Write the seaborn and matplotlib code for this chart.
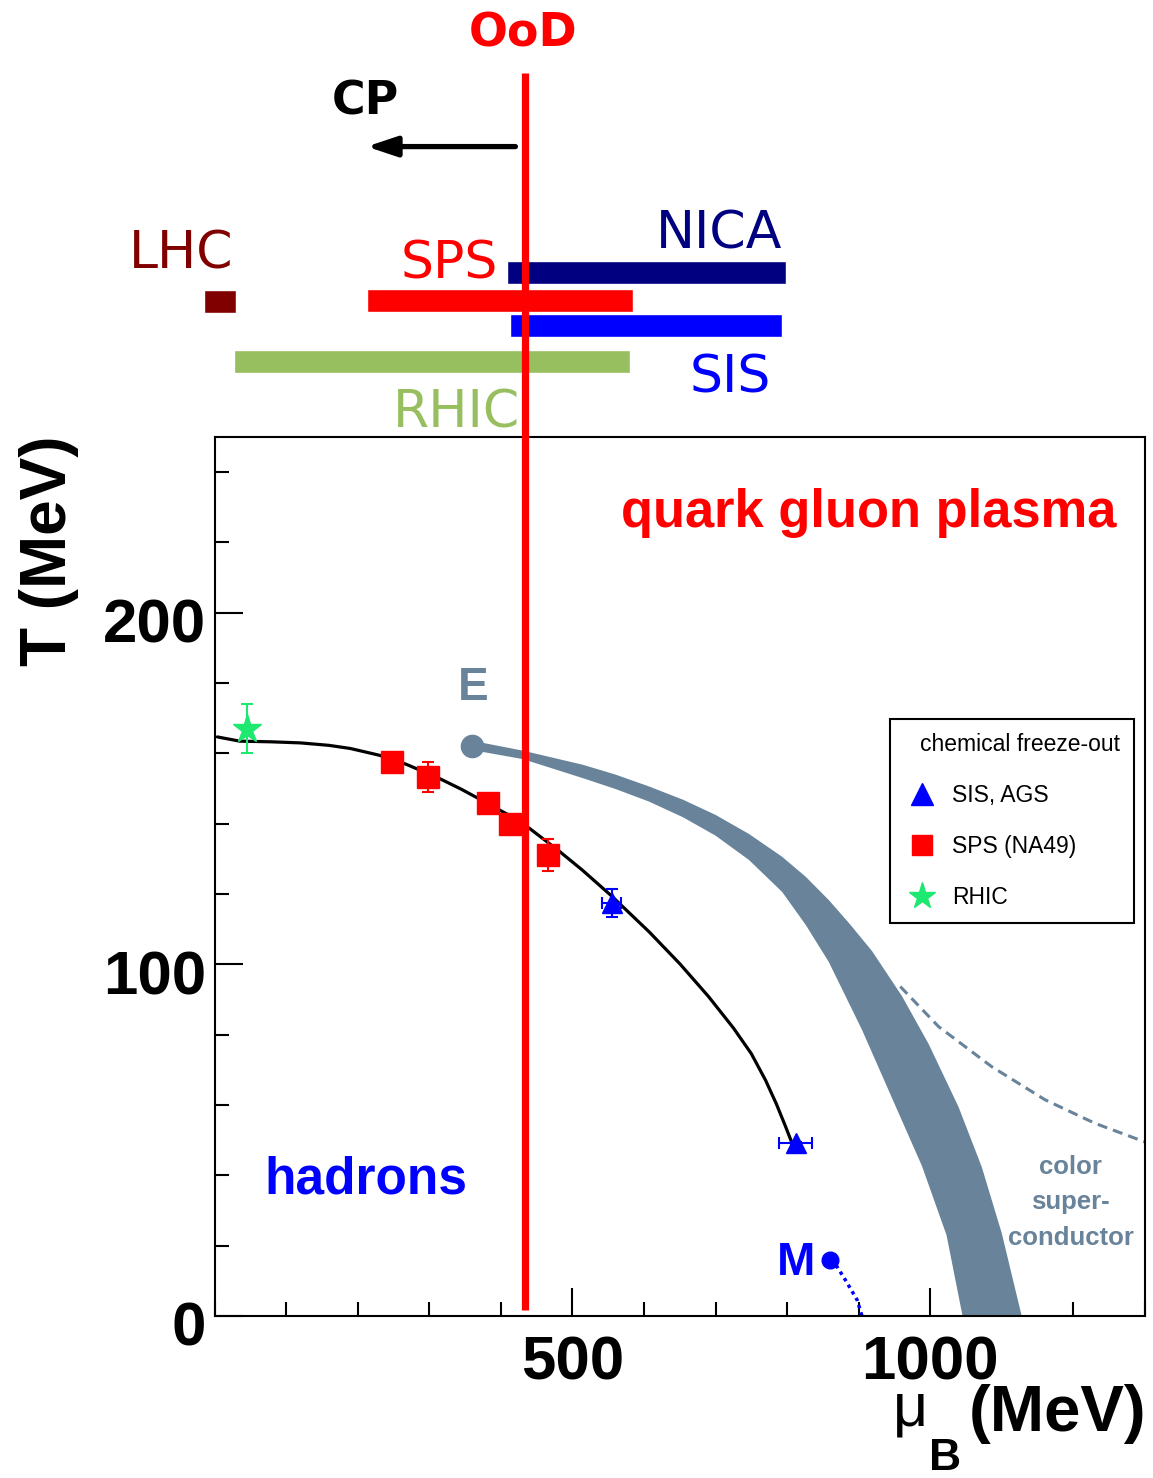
import numpy as np
import matplotlib
matplotlib.use("Agg")
import matplotlib.pyplot as plt
from matplotlib.lines import Line2D
from matplotlib.ticker import MultipleLocator, FixedLocator, NullFormatter
from matplotlib.transforms import ScaledTranslation
import seaborn as sns

# ---------------------------------------------------------------- data
# chemical freeze-out curve (mu_B in MeV, T in MeV)
fo_mu = [4, 35, 80, 120, 160, 190, 230, 268, 314, 345, 375, 410, 440, 481,
         514, 554, 607, 650, 690, 725, 750, 770, 785, 797, 807]
fo_T = [164.7, 163.5, 163.3, 163.0, 162.3, 161.4, 159.5, 156.9, 152.9, 149.8,
        146.5, 142.6, 138.7, 132.3, 126.8, 119.6, 109.3, 100.2, 90.9, 81.9,
        74.6, 67.0, 60.3, 54.3, 49.1]

# freeze-out measurements
rhic_mu = [45.8]
rhic_T = [167.0]
rhic_err = [7.0]

sps_mu = [248.4, 297.7, 381.8, 413.0, 465.5]
sps_T = [157.5, 153.3, 146.0, 140.0, 131.2]
sps_err = [2.0, 4.2, 2.0, 2.0, 4.5]

sis_mu = [554.7, 811.8]
sis_T = [117.4, 49.1]
sis_xerr = [13.0, 23.0]
sis_yerr = [4.0, 0.5]

# phase boundary band starting at the critical end point E
cep_mu, cep_T = 360.0, 162.0
band_up_mu = [372.6, 430.6, 514.2, 560.0, 607.2, 655.0, 700.2, 746.7, 793.1,
              826.1, 858.2, 887.5, 918.6, 960.4, 997.6, 1039.4, 1071.9,
              1099.8, 1127.7]
band_up_T = [163.1, 160.8, 156.8, 154.0, 150.6, 146.8, 142.5, 137.1, 130.6,
             124.9, 118.3, 111.5, 103.8, 91.0, 77.4, 59.5, 42.4, 23.6, 0.0]
band_lo_mu = [372.6, 430.6, 514.2, 560.0, 607.2, 655.0, 700.2, 746.7, 793.1,
              826.1, 858.2, 904.6, 946.5, 988.3, 1022.7, 1045.1]
band_lo_T = [160.5, 158.4, 153.0, 149.9, 146.3, 141.8, 136.6, 129.7, 120.6,
             111.2, 100.7, 81.4, 62.0, 42.7, 23.0, 0.0]

# colour superconductor boundary
csc_mu = [958.1, 1011.6, 1085.9, 1160.3, 1230.1, 1300.0]
csc_T = [93.7, 82.3, 70.9, 61.5, 54.8, 49.5]

# nuclear liquid-gas point M and its line
m_mu, m_T = 860.5, 15.9
lg_mu = [860.5, 869.8, 881.5, 897.7, 904.6]
lg_T = [15.9, 14.0, 10.2, 4.6, 0.0]

# facility ranges in mu_B
fac_names = ["NICA", "SPS", "SIS", "RHIC", "LHC"]
fac_lo = [408, 213, 413, 27, -15]
fac_hi = [799, 585, 793, 581, 30]
fac_T = [296.7, 288.9, 281.6, 271.5, 288.5]

ood_mu = 434.0
cp_from, cp_to = 420.4, 212.6

# ---------------------------------------------------------------- style
sns.set_theme(style="white")
plt.rcParams["font.family"] = ["Liberation Sans", "DejaVu Sans"]
plt.rcParams["text.color"] = "black"
plt.rcParams["axes.labelcolor"] = "black"

GRAY = "#68839a"
NAVY = "#000080"
RED = "#ff0000"
BLUE = "#0000ff"
OLIVE = "#97be5f"
MAROON = "#800000"
GREEN = "#1de870"
fac_colors = [NAVY, RED, BLUE, OLIVE, MAROON]

fig = plt.figure(figsize=(11.53, 14.78), dpi=100)
ax = fig.add_axes([0.18604, 0.10961, 0.80703, 0.59472])
ax.set_xlim(0, 1300)
ax.set_ylim(0, 250)

# phase boundary band
poly_mu = np.r_[band_up_mu, band_lo_mu[::-1]]
poly_T = np.r_[band_up_T, band_lo_T[::-1]]
ax.fill(poly_mu, poly_T, color=GRAY, lw=0, zorder=1.5)
ax.plot([cep_mu], [cep_T], "o", ms=16, color=GRAY, zorder=1.6)

ax.plot(csc_mu, csc_T, color=GRAY, lw=2.2, dashes=(3.3, 2.0), zorder=1.5)
ax.plot(lg_mu, lg_T, color=BLUE, lw=2.5, ls=(0, (1, 1.2)), zorder=1.5)
ax.plot([m_mu], [m_T], "o", ms=12, color=BLUE, zorder=1.6)

# freeze-out curve
sns.lineplot(x=fo_mu, y=fo_T, ax=ax, color="black", lw=2.3, sort=False,
             estimator=None, zorder=2)

# freeze-out data
ax.errorbar(rhic_mu, rhic_T, yerr=rhic_err, fmt="*", ms=21, color=GREEN,
            ecolor=GREEN, elinewidth=1.5, capsize=4, capthick=1.5, zorder=3)
ax.errorbar(sps_mu, sps_T, yerr=sps_err, fmt="s", ms=16, color=RED,
            ecolor=RED, elinewidth=1.5, capsize=4, capthick=1.5, zorder=3)
ax.errorbar(sis_mu, sis_T, xerr=sis_xerr, yerr=sis_yerr, fmt="^", ms=15,
            color=BLUE, ecolor=BLUE, elinewidth=1.5, capsize=4, capthick=1.5,
            zorder=3)

# facility coverage above the frame
ax.barh(fac_T, np.subtract(fac_hi, fac_lo), left=fac_lo, height=6.5,
        color=fac_colors, clip_on=False, zorder=4)
fac_label_pos = {"NICA": (705, 303.6), "SPS": (328, 295.0), "SIS": (720, 262.6),
                 "RHIC": (338, 252.6), "LHC": (-46, 297.9)}
for name, col in zip(fac_names, fac_colors):
    x, y = fac_label_pos[name]
    ax.text(x, y, name, color=col, fontsize=37.5, family="DejaVu Sans",
            ha="center", va="baseline", clip_on=False, zorder=4)

# out-of-design line and arrow
ax.plot([ood_mu, ood_mu], [1.7, 353.6], color=RED, lw=5.2, clip_on=False,
        solid_capstyle="butt", zorder=6)
ax.text(ood_mu - 3, 361, "OoD", color=RED, fontsize=33, fontweight="bold",
        family="DejaVu Sans", ha="center", va="baseline", clip_on=False)
ax.text(211, 341.7, "CP", color="black", fontsize=33, fontweight="bold",
        family="DejaVu Sans", ha="center", va="baseline", clip_on=False)
ax.annotate("", xy=(cp_to, 332.6), xytext=(cp_from, 332.6),
            annotation_clip=False,
            arrowprops=dict(arrowstyle="-|>,head_length=0.9,head_width=0.3",
                            mutation_scale=20, lw=3.8, color="black",
                            shrinkA=0, shrinkB=0))

# region labels
ax.text(568, 224.3, "quark gluon plasma", color=RED, fontsize=37.8,
        fontweight="bold", ha="left", va="baseline")
ax.text(69, 34.7, "hadrons", color=BLUE, fontsize=37, fontweight="bold",
        ha="left", va="baseline")
ax.text(362, 175.2, "E", color=GRAY, fontsize=33, fontweight="bold",
        ha="center", va="baseline")
ax.text(813, 11.7, "M", color=BLUE, fontsize=33, fontweight="bold",
        ha="center", va="baseline")
for line, yb in zip(["color", "super-", "conductor"], [40.3, 30.3, 20.2]):
    ax.text(1196, yb, line, color=GRAY, fontsize=18.5, fontweight="bold",
            ha="center", va="baseline")

# legend
handles = [Line2D([], [], ls="none", marker="^", ms=16, color=BLUE),
           Line2D([], [], ls="none", marker="s", ms=15, color=RED),
           Line2D([], [], ls="none", marker="*", ms=20, color=GREEN)]
leg = ax.legend(handles, ["SIS, AGS", "SPS (NA49)", "RHIC"],
                title="chemical freeze-out", loc="upper left",
                bbox_to_anchor=(0.726, 0.449, 0.262, 0.230), mode="expand",
                fontsize=16.5, title_fontsize=16.5, frameon=True,
                fancybox=False, edgecolor="black", framealpha=1,
                borderpad=0.6, labelspacing=1.22, handlelength=1.6,
                handletextpad=0.5, borderaxespad=0, alignment="right")
leg.get_frame().set_linewidth(1.5)
leg.set_zorder(5)

# axes, ticks, labels
for sp in ax.spines.values():
    sp.set_visible(True)
    sp.set_color("black")
    sp.set_linewidth(1.5)
ax.xaxis.set_major_locator(FixedLocator([500, 1000]))
ax.xaxis.set_minor_locator(MultipleLocator(100))
ax.yaxis.set_major_locator(FixedLocator([0, 100, 200]))
ax.yaxis.set_minor_locator(MultipleLocator(20))
ax.xaxis.set_minor_formatter(NullFormatter())
ax.yaxis.set_minor_formatter(NullFormatter())
ax.tick_params(which="both", direction="in", top=False, right=False,
               bottom=True, left=True, colors="black", width=1.5)
ax.tick_params(which="major", length=20, labelsize=44.5)
ax.tick_params(which="minor", length=10)
ax.tick_params(axis="x", which="major", pad=14)
ax.tick_params(axis="y", which="major", pad=6)
for lbl in ax.get_xticklabels() + ax.get_yticklabels():
    lbl.set_fontweight("bold")
offset = ScaledTranslation(0, -8 / 100, fig.dpi_scale_trans)
for lbl in ax.get_yticklabels():
    lbl.set_transform(lbl.get_transform() + offset)

ax.set_ylabel("T (MeV)", fontsize=46, fontweight="bold", color="black")
ax.yaxis.set_label_coords(-0.146, 0.871)

# x title: mu with a dropped bold subscript B, then the unit
ax.set_xlabel("(MeV)", fontsize=47, fontweight="bold", color="black",
              loc="right")
ax.xaxis.label.set_va("baseline")
ax.xaxis.set_label_coords(1.002, -0.131)
ax.text(0.7475, -0.125, "\u03bc", transform=ax.transAxes, fontsize=44,
        ha="center", va="baseline", color="black")
ax.text(0.785, -0.1755, "B", transform=ax.transAxes, fontsize=32,
        fontweight="bold", ha="center", va="baseline", color="black")

ax.grid(False)
fig.savefig("out.png", dpi=100, facecolor="white")
